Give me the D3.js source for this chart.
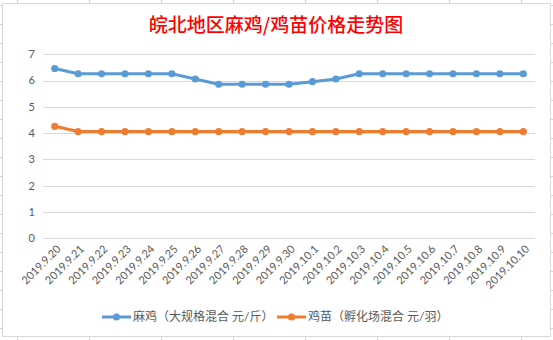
<!DOCTYPE html>
<html><head><meta charset="utf-8">
<script src="https://cdn.jsdelivr.net/npm/d3@7"></script>
<style>body{margin:0;background:#fff}svg{display:block}</style>
</head><body>
<script>
const categories = ["2019.9.20","2019.9.21","2019.9.22","2019.9.23","2019.9.24","2019.9.25","2019.9.26","2019.9.27","2019.9.28","2019.9.29","2019.9.30","2019.10.1","2019.10.2","2019.10.3","2019.10.4","2019.10.5","2019.10.6","2019.10.7","2019.10.8","2019.10.9","2019.10.10"];
const maji = [6.46,6.26,6.26,6.26,6.26,6.26,6.06,5.86,5.86,5.86,5.86,5.96,6.06,6.26,6.26,6.26,6.26,6.26,6.26,6.26,6.26];
const jimiao = [4.26,4.06,4.06,4.06,4.06,4.06,4.06,4.06,4.06,4.06,4.06,4.06,4.06,4.06,4.06,4.06,4.06,4.06,4.06,4.06,4.06];
const seriesNames = ["麻鸡（大规格混合 元/斤）","鸡苗（孵化场混合 元/羽）"];
const yTicks = [0,1,2,3,4,5,6,7];
const title = "皖北地区麻鸡/鸡苗价格走势图";
const colors = ["#5B9BD5","#ED7D31"];

const W = 553, H = 340;
const svg = d3.select("body").append("svg").attr("width", W).attr("height", H);

// spreadsheet grid behind the chart
const sheet = svg.append("g").attr("stroke", "#d4d4d4").attr("stroke-width", 1);
d3.range(17.5, W, 72).forEach(x => sheet.append("line").attr("x1", x).attr("x2", x).attr("y1", 0).attr("y2", H));
d3.range(5.5, H, 19).forEach(y => sheet.append("line").attr("x1", 0).attr("x2", W).attr("y1", y).attr("y2", y));

// chart area
svg.append("rect").attr("x", 2.5).attr("y", 3.5).attr("width", 548).attr("height", 333)
  .attr("fill", "#fff").attr("stroke", "#d9d9d9");

svg.append("text").attr("x", 276).attr("y", 32).attr("text-anchor", "middle")
  .attr("font-family", "'Noto Sans CJK SC'").attr("font-size", 19).attr("font-weight", 500)
  .attr("fill", "#FF0000").text(title);

const x = d3.scaleBand().domain(categories).range([43, 535]);
const y = d3.scaleLinear().domain([0, 7]).range([238.3, 54.3]);

const font = "Lato, 'Noto Sans CJK SC', sans-serif";
const grid = svg.append("g");
yTicks.forEach(t => {
  grid.append("line").attr("x1", 43).attr("x2", 535).attr("y1", Math.round(y(t)) + 0.5).attr("y2", Math.round(y(t)) + 0.5)
    .attr("stroke", "#d9d9d9").attr("stroke-width", 1);
  grid.append("text").attr("x", 35).attr("y", y(t)).attr("dy", "0.35em").attr("text-anchor", "end")
    .attr("font-family", font).attr("font-size", 11).attr("fill", "#595959").text(t);
});

categories.forEach(c => {
  const cx = x(c) + x.bandwidth() / 2;
  svg.append("text").attr("transform", `translate(${cx + 4},${247}) rotate(-45)`)
    .attr("text-anchor", "end").attr("dy", "0.35em")
    .attr("font-family", font).attr("font-size", 11).attr("fill", "#595959").text(c);
});

const line = d3.line().x((d, i) => x(categories[i]) + x.bandwidth() / 2).y(d => y(d));
[maji, jimiao].forEach((s, k) => {
  svg.append("path").datum(s).attr("d", line).attr("fill", "none")
    .attr("stroke", colors[k]).attr("stroke-width", 3).attr("stroke-linejoin", "round").attr("stroke-linecap", "round");
  svg.append("g").selectAll("circle").data(s).join("circle")
    .attr("cx", (d, i) => x(categories[i]) + x.bandwidth() / 2).attr("cy", d => y(d))
    .attr("r", 3.6).attr("fill", colors[k]);
});

// legend
const legX = [102, 277];
seriesNames.forEach((n, k) => {
  const g = svg.append("g").attr("transform", `translate(${legX[k]},317)`);
  g.append("line").attr("x1", 0).attr("x2", 29).attr("stroke", colors[k]).attr("stroke-width", 3);
  g.append("circle").attr("cx", 14.5).attr("r", 3.6).attr("fill", colors[k]);
  g.append("text").attr("x", 31).attr("dy", "0.35em").attr("font-family", font)
    .attr("font-size", 12).attr("fill", "#595959").text(n);
});
</script>
</body></html>
